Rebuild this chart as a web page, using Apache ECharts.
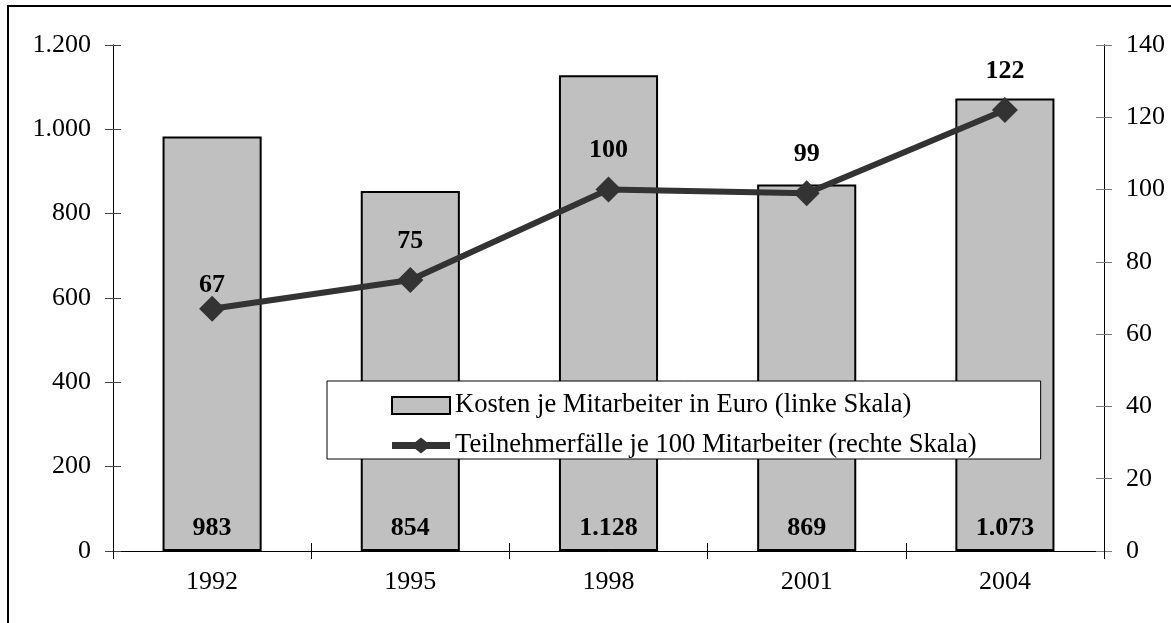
<!DOCTYPE html>
<html>
<head>
<meta charset="utf-8">
<script src="https://cdn.jsdelivr.net/npm/echarts@6/dist/echarts.min.js"></script>
<style>
html,body{margin:0;padding:0;background:#fff;}
#chart{width:1171px;height:623px;}
</style>
</head>
<body>
<div id="chart"></div>
<script>
const categories = ['1992', '1995', '1998', '2001', '2004'];
const kosten = [983, 854, 1128, 869, 1073];
const teilnehmer = [67, 75, 100, 99, 122];
const seriesNames = ['Kosten je Mitarbeiter in Euro (linke Skala)', 'Teilnehmerfälle je 100 Mitarbeiter (rechte Skala)'];

const FONT = '"Liberation Serif", "Times New Roman", serif';
const FS = 26;
function de(v) {
  return String(v).replace(/\B(?=(\d{3})+(?!\d))/g, '.');
}

const chart = echarts.init(document.getElementById('chart'), null, {renderer: 'canvas'});

const baseX = {
  type: 'category', data: categories, position: 'bottom',
  axisLine: {show: true, lineStyle: {color: '#000', width: 1}},
  axisTick: {show: true, alignWithLabel: false, length: 8, lineStyle: {color: '#000'}},
  splitLine: {show: false}
};
const baseYL = {
  type: 'value', min: 0, max: 1200, interval: 200, position: 'left',
  axisLine: {show: true, onZero: false, lineStyle: {color: '#000', width: 1}},
  axisTick: {show: true, length: 8, lineStyle: {color: '#444'}},
  splitLine: {show: false}
};
const baseYR = {
  type: 'value', min: 0, max: 140, interval: 20, position: 'right',
  axisLine: {show: true, onZero: false, lineStyle: {color: '#000', width: 1}},
  axisTick: {show: true, length: 8, lineStyle: {color: '#777'}},
  splitLine: {show: false}
};

// first point's label sits closer to its marker in the reference
const lineData = teilnehmer.map((v, i) => i === 0 ? {value: v, label: {distance: -2}} : v);

// legend icon: thick line with a diamond in the middle
const lineIcon = 'path://M0,-3.5 L23.4,-3.5 L29,-8 L34.6,-3.5 L58,-3.5 L58,3.5 L34.6,3.5 L29,8 L23.4,3.5 L0,3.5 Z';

chart.setOption({
  animation: false,
  backgroundColor: '#fff',
  textStyle: {fontFamily: FONT},
  grid: {left: 113, right: 67, top: 45, bottom: 72, containLabel: false},
  graphic: [{
    type: 'rect', shape: {x: 8, y: 6, width: 1300, height: 800},
    style: {fill: 'none', stroke: '#000', lineWidth: 2}, silent: true, z: 100
  }],
  xAxis: [
    Object.assign({}, baseX, {
      axisLabel: {show: true, margin: 18, color: '#000', fontFamily: FONT, fontSize: FS}
    }),
    Object.assign({}, baseX, {
      axisTick: {show: true, inside: true, alignWithLabel: false, length: 8, lineStyle: {color: '#000'}},
      axisLabel: {show: false}
    })
  ],
  yAxis: [
    Object.assign({}, baseYL, {
      axisLabel: {show: true, margin: 22, color: '#000', fontFamily: FONT, fontSize: FS, formatter: v => de(v)}
    }),
    Object.assign({}, baseYR, {
      axisLabel: {show: true, margin: 22, color: '#000', fontFamily: FONT, fontSize: FS}
    }),
    Object.assign({}, baseYL, {
      axisTick: {show: true, inside: true, length: 8, lineStyle: {color: '#444'}},
      axisLabel: {show: false}
    }),
    Object.assign({}, baseYR, {
      axisTick: {show: true, inside: true, length: 8, lineStyle: {color: '#777'}},
      axisLabel: {show: false}
    })
  ],
  legend: {
    show: true,
    orient: 'vertical',
    left: 327, top: 381,
    padding: [11, 64, 0, 64],
    itemGap: 13,
    itemWidth: 58, itemHeight: 17,
    backgroundColor: '#fff',
    borderColor: '#000', borderWidth: 1,
    textStyle: {fontFamily: FONT, fontSize: 26.6, color: '#000'},
    data: [
      {name: seriesNames[0], icon: 'rect'},
      {name: seriesNames[1], icon: lineIcon, itemStyle: {color: '#333', borderWidth: 0}}
    ]
  },
  series: [
    {
      name: seriesNames[0],
      type: 'bar',
      xAxisIndex: 0, yAxisIndex: 0,
      data: kosten,
      barCategoryGap: '50%',
      itemStyle: {color: '#c0c0c0', borderColor: '#000', borderWidth: 2},
      label: {
        show: true, position: 'insideBottom', distance: 10,
        fontFamily: FONT, fontSize: FS, fontWeight: 'bold', color: '#000',
        formatter: p => de(p.value)
      },
      z: 2
    },
    {
      name: seriesNames[1],
      type: 'line',
      xAxisIndex: 0, yAxisIndex: 1,
      data: lineData,
      symbol: 'diamond', symbolSize: 26,
      lineStyle: {color: '#333', width: 6},
      itemStyle: {color: '#333'},
      label: {
        show: true, position: 'top', distance: 13,
        fontFamily: FONT, fontSize: FS, fontWeight: 'bold', color: '#000'
      },
      z: 3
    }
  ]
});
</script>
</body>
</html>
